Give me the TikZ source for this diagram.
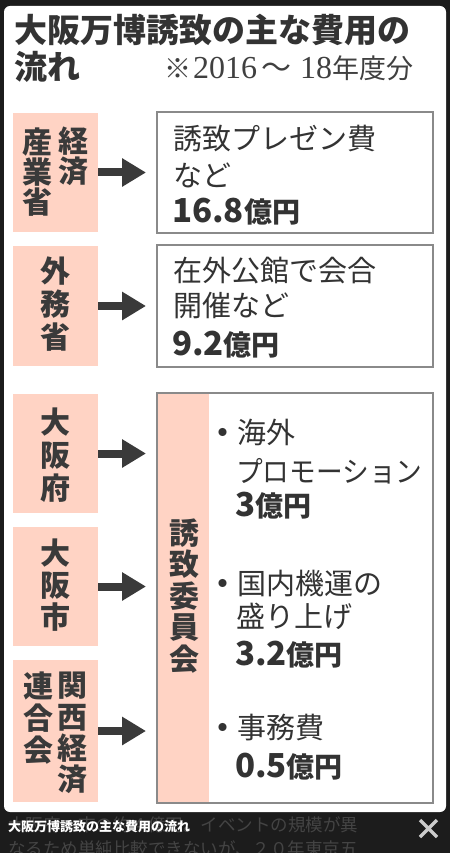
\documentclass[tikz,border=0pt]{standalone}
\usepackage{fontspec}
\setmainfont{Noto Sans CJK JP}
\newfontfamily\serifnum{Liberation Serif}
\usetikzlibrary{arrows.meta}
\definecolor{bgdark}{HTML}{1C1C1C}
\definecolor{pinkc}{HTML}{FFD3C4}
\definecolor{edgec}{HTML}{8A8A8A}
\definecolor{inkc}{HTML}{333333}
\definecolor{labinkc}{HTML}{3A3A3A}
\definecolor{arrowc}{HTML}{3A3A3A}
\definecolor{fadedc}{HTML}{444444}
\definecolor{periodc}{HTML}{404040}
\definecolor{closec}{HTML}{CCCCCC}
\newcommand\fsz[2]{\fontsize{#1}{#2}\selectfont}
\newcommand\okuyen[1]{{\bfseries\fsz{33}{33}#1}{\bfseries\fsz{28}{28}億円}}
\newcommand\bul{{\bfseries ・}}
\tikzset{
  labbox/.style={fill=pinkc, draw=none, inner sep=0pt, outer sep=0pt, minimum width=85pt},
  costbox/.style={draw=edgec, line width=2pt, inner sep=0pt, outer sep=0pt, minimum width=276pt},
  vlab/.style={inner sep=0pt, align=center, text=labinkc, font=\bfseries\fsz{30}{#1}},
  txt/.style={inner sep=0pt, anchor=base west, text=inkc, font=\fsz{29}{29}},
  flowarrow/.style={draw=arrowc, line width=8pt, -{Triangle[length=24pt,width=27pt]}, shorten >=11pt}
}
\begin{document}
\begin{tikzpicture}[x=1pt,y=-1pt]
\useasboundingbox (0,0) rectangle (450,853);
\fill[bgdark] (0,0) rectangle (450,853);
% faded page text behind overlay
\node[inner sep=0pt, anchor=west, text=fadedc, font=\fsz{17.5}{17.5}] (fade1) at (8,825) {大阪府・市の約４億円。イベントの規模が異};
\node[inner sep=0pt, anchor=west, text=fadedc, font=\fsz{17.5}{17.5}] (fade2) at (8,849) {なるため単純比較できないが、２０年東京五};
% panel
\fill[white, rounded corners=6pt] (4,6) rectangle (446,812);
% title
\node[txt, font=\bfseries\fsz{33}{33}] (title1) at (14,43) {大阪万博誘致の主な費用の};
\node[txt, font=\bfseries\fsz{33}{33}] (title2) at (14,80) {流れ};
\node[txt, text=periodc, font=\fsz{27}{27}] (period) at (164,79) {※\hspace{2pt}{\serifnum\fsz{32}{32}2016}\hspace{4pt}{\fsz{30}{30}～}\hspace{9pt}{\serifnum\fsz{32}{32}18}年度分};
% left boxes
\node[labbox, minimum height=119pt] (l1) at (55.5,172.5) {};
\node[labbox, minimum height=120pt] (l2) at (55.5,306) {};
\node[labbox, minimum height=119pt] (l3) at (55.5,453.5) {};
\node[labbox, minimum height=119pt] (l4) at (55.5,586.5) {};
\node[labbox, minimum height=142pt] (l5) at (55.5,731) {};
\node[vlab=30] (l1a) at (73,156) {経\\済};
\node[vlab=30] (l1b) at (37,172) {産\\業\\省};
\node[vlab=33] (l2a) at (55.5,304) {外\\務\\省};
\node[vlab=33] (l3a) at (55.5,455) {大\\阪\\府};
\node[vlab=32] (l4a) at (55.5,585) {大\\阪\\市};
\node[vlab=31.3] (l5a) at (72.5,733) {関\\西\\経\\済};
\node[vlab=32] (l5b) at (38,718) {連\\合\\会};
% right boxes
\node[costbox, minimum height=121pt] (r1) at (295,172.5) {};
\node[costbox, minimum height=122pt] (r2) at (295,306) {};
\fill[pinkc] (158,394) rectangle (209,802);
\node[costbox, minimum height=410pt] (r3) at (295,598) {};
\node[vlab=31.5] (committee) at (184,596) {誘\\致\\委\\員\\会};
% arrows
\draw[flowarrow] (l1.east) -- (r1.west |- l1.east);
\draw[flowarrow] (l2.east) -- (r2.west |- l2.east);
\draw[flowarrow] (l3.east) -- (r3.west |- l3.east);
\draw[flowarrow] (l4.east) -- (r3.west |- l4.east);
\draw[flowarrow] (l5.east) -- (r3.west |- l5.east);
% box 1 text
\node[txt] (r1a) at (173,150) {誘致プレゼン費};
\node[txt] (r1b) at (173,186) {など};
\node[txt] (r1c) at (172,222) {\okuyen{16.8}};
% box 2 text
\node[txt] (r2a) at (173,281) {在外公館で会合};
\node[txt] (r2b) at (173,316) {開催など};
\node[txt] (r2c) at (172,355) {\okuyen{9.2}};
% big box text
\node[txt] (i1a) at (208,443) {\bul 海外};
\node[txt] (i1b) at (236,482) {\scalebox{0.92}[1]{プロモーション}};
\node[txt] (i1c) at (235,516) {\okuyen{3}};
\node[txt] (i2a) at (208,594) {\bul 国内機運の};
\node[txt] (i2b) at (236,627) {盛り上げ};
\node[txt] (i2c) at (235,665) {\okuyen{3.2}};
\node[txt] (i3a) at (208,738) {\bul 事務費};
\node[txt] (i3c) at (235,777) {\okuyen{0.5}};
% bottom caption bar
\node[inner sep=0pt, anchor=west, text=white, font=\bfseries\fsz{13}{13}] (caption) at (8,827) {大阪万博誘致の主な費用の流れ};
\coordinate (xa) at (420,820);
\coordinate (xb) at (437,837);
\coordinate (xc) at (437,820);
\coordinate (xd) at (420,837);
\draw[closec, line width=3.5pt] (xa) -- (xb) (xc) -- (xd);
\end{tikzpicture}
\end{document}
